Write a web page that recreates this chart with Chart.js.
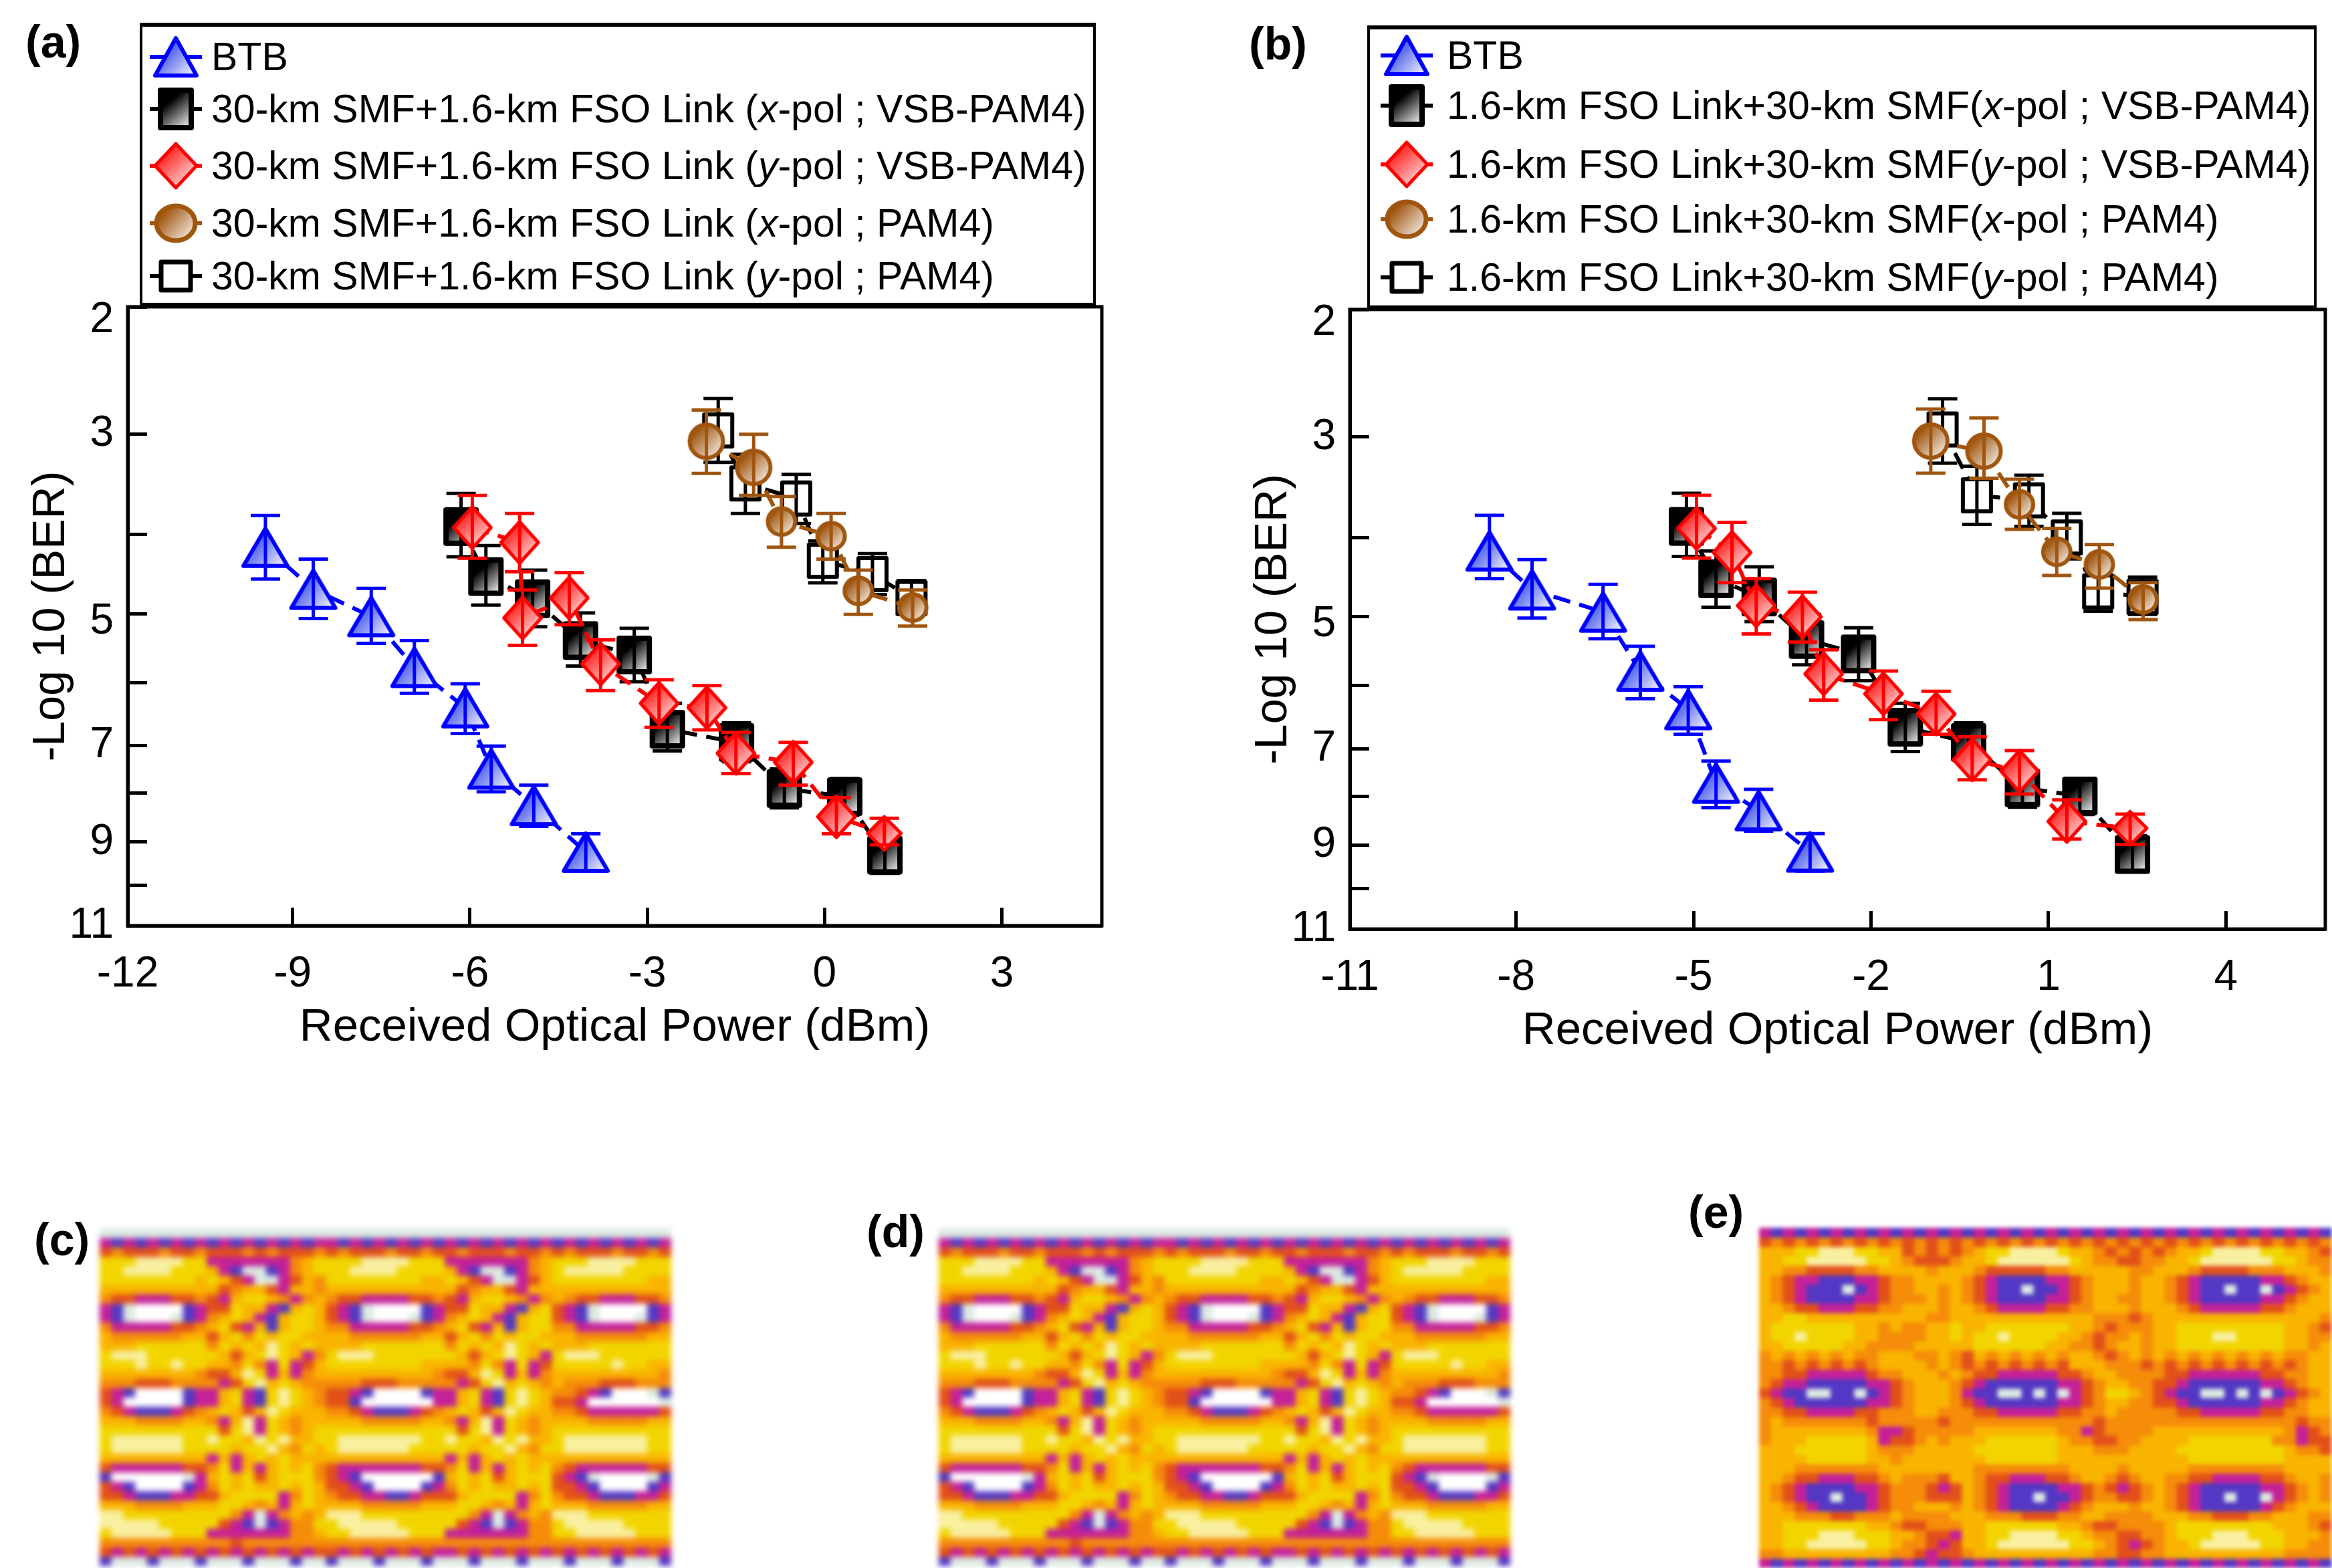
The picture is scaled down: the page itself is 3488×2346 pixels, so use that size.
<!DOCTYPE html>
<html>
<head>
<meta charset="utf-8">
<title>BER curves and eye diagrams</title>
<script src="https://cdn.jsdelivr.net/npm/chart.js@4/dist/chart.umd.js"></script>
<style>
  html, body { margin: 0; padding: 0; background: #fff; }
  #page { position: relative; width: 3488px; height: 2346px; overflow: hidden; font-family: "Liberation Sans", Arial, sans-serif; color: #000; }
  #page canvas.plot, #page canvas.eye { position: absolute; display: block; }
  .tag { position: absolute; font-weight: bold; font-size: 68px; line-height: 1; }
  .legend { position: absolute; box-sizing: border-box; background: #fff; border: 4px solid #000; border-top-width: 6px; border-bottom-width: 6px; }
  .row { position: absolute; white-space: nowrap; font-size: 59px; line-height: 1; transform: translateY(-50%); }
  .row i { font-style: italic; }
  .swatch { position: absolute; }
  .stub { position: absolute; height: 6px; width: 78px; }
</style>
</head>
<body>
<div id="page"></div>
<script>
// y levels shown on both BER axes, the axis is warped so they sit where the figure has them
const berLevels = [2, 3, 4, 5, 6, 7, 8, 9, 10, 11];
const berStops = [0, 0.206, 0.368, 0.496, 0.607, 0.709, 0.786, 0.865, 0.935, 1];
const berLabels = ['2', '3', '', '5', '', '7', '', '9', '', '11'];
const berLabelNudge = [20, 0, 0, 12, 0, 0, 0, 0, 0, 0];

// panel (a)
const aTickValues = [-11.79, -9, -6, -3, 0, 3];
const aTickLabels = ['-12', '-9', '-6', '-3', '0', '3'];
const aBtbX = [-9.46, -8.65, -7.67, -6.94, -6.08, -5.64, -4.92, -4.04];
const aBtbY = [4.16, 4.69, 5.04, 5.78, 6.40, 7.49, 8.25, 9.23];
const aBtbTop = [3.81, 4.31, 4.68, 5.39, 6.02, 7.01, 7.83, 8.83];
const aBtbBottom = [4.56, 5.07, 5.43, 6.17, 6.81, 7.97, 8.68, 9.66];
const aVsbXpolX = [-6.15, -5.73, -4.94, -4.13, -3.22, -2.66, -1.49, -0.68, 0.34, 1.02];
const aVsbXpolY = [3.92, 4.53, 4.81, 5.39, 5.60, 6.74, 6.95, 7.90, 8.07, 9.30];
const aVsbXpolTop = [3.59, 4.14, 4.45, 4.99, 5.21, 6.33, 6.64, 7.49, 7.69, 8.83];
const aVsbXpolBottom = [4.28, 4.89, 5.19, 5.76, 5.99, 7.11, 7.34, 8.30, 8.45, 9.72];
const aVsbYpolX = [-5.96, -5.16, -5.11, -4.32, -3.79, -2.80, -1.99, -1.50, -0.53, 0.20, 1.01];
const aVsbYpolY = [3.93, 4.10, 5.06, 4.80, 5.73, 6.33, 6.40, 7.16, 7.35, 8.48, 8.82];
const aVsbYpolTop = [3.61, 3.79, 4.70, 4.48, 5.38, 5.96, 6.05, 6.79, 6.95, 8.09, 8.51];
const aVsbYpolBottom = [4.30, 4.47, 5.46, 5.16, 6.13, 6.71, 6.75, 7.59, 7.83, 8.83, 9.06];
const aPamXpolX = [-2.00, -1.20, -0.73, 0.11, 0.57, 1.49];
const aPamXpolY = [3.07, 3.33, 3.87, 4.02, 4.71, 4.92];
const aPamXpolTop = [2.81, 3.00, 3.62, 3.79, 4.45, 4.70];
const aPamXpolBottom = [3.39, 3.61, 4.16, 4.31, 5.01, 5.18];
const aPamYpolX = [-1.80, -1.34, -0.48, -0.03, 0.81, 1.47];
const aPamYpolY = [2.97, 3.49, 3.64, 4.33, 4.50, 4.80];
const aPamYpolTop = [2.72, 3.20, 3.40, 4.08, 4.24, 4.58];
const aPamYpolBottom = [3.28, 3.79, 3.89, 4.61, 4.76, 5.01];

// panel (b)
const bTickValues = [-10.81, -8, -5, -2, 1, 4];
const bTickLabels = ['-11', '-8', '-5', '-2', '1', '4'];
const bBtbX = [-8.45, -7.73, -6.53, -5.90, -5.09, -4.62, -3.90, -3.03];
const bBtbY = [4.17, 4.66, 4.94, 5.79, 6.38, 7.72, 8.29, 9.15];
const bBtbTop = [3.78, 4.28, 4.59, 5.43, 6.02, 7.26, 7.85, 8.76];
const bBtbBottom = [4.52, 5.02, 5.32, 6.21, 6.77, 8.23, 8.71, 9.59];
const bVsbXpolX = [-5.12, -4.62, -3.89, -3.09, -2.21, -1.42, -0.35, 0.56, 1.53, 2.42];
const bVsbXpolY = [3.89, 4.52, 4.75, 5.33, 5.54, 6.66, 6.90, 7.82, 7.99, 9.21];
const bVsbXpolTop = [3.56, 4.17, 4.37, 4.97, 5.16, 6.28, 6.59, 7.41, 7.65, 8.80];
const bVsbXpolBottom = [4.24, 4.88, 5.07, 5.70, 5.93, 7.06, 7.27, 8.22, 8.37, 9.61];
const bVsbYpolX = [-4.95, -4.35, -3.94, -3.16, -2.80, -1.79, -0.90, -0.29, 0.51, 1.31, 2.38];
const bVsbYpolY = [3.91, 4.19, 4.86, 5.00, 5.83, 6.13, 6.45, 7.23, 7.47, 8.51, 8.65];
const bVsbYpolTop = [3.58, 3.85, 4.52, 4.69, 5.48, 5.79, 6.09, 6.81, 7.04, 8.07, 8.36];
const bVsbYpolBottom = [4.26, 4.57, 5.25, 5.37, 6.23, 6.54, 6.77, 7.65, 7.95, 8.87, 8.98];
const bPamXpolX = [-0.99, -0.09, 0.51, 1.14, 1.86, 2.60];
const bPamXpolY = [3.04, 3.14, 3.67, 4.18, 4.34, 4.78];
const bPamXpolTop = [2.78, 2.85, 3.42, 3.91, 4.09, 4.57];
const bPamXpolBottom = [3.36, 3.41, 3.92, 4.48, 4.64, 5.04];
const bPamYpolX = [-0.79, -0.21, 0.67, 1.31, 1.84, 2.59];
const bPamYpolY = [2.94, 3.58, 3.63, 4.00, 4.68, 4.75];
const bPamYpolTop = [2.70, 3.29, 3.38, 3.76, 4.41, 4.50];
const bPamYpolBottom = [3.26, 3.87, 3.89, 4.27, 4.93, 4.97];

const aLegend = [
  'BTB',
  '30-km SMF+1.6-km FSO Link (<i>x</i>-pol ; VSB-PAM4)',
  '30-km SMF+1.6-km FSO Link (<i>y</i>-pol ; VSB-PAM4)',
  '30-km SMF+1.6-km FSO Link (<i>x</i>-pol ; PAM4)',
  '30-km SMF+1.6-km FSO Link (<i>y</i>-pol ; PAM4)'
];
const bLegend = [
  'BTB',
  '1.6-km FSO Link+30-km SMF(<i>x</i>-pol ; VSB-PAM4)',
  '1.6-km FSO Link+30-km SMF(<i>y</i>-pol ; VSB-PAM4)',
  '1.6-km FSO Link+30-km SMF(<i>x</i>-pol ; PAM4)',
  '1.6-km FSO Link+30-km SMF(<i>y</i>-pol ; PAM4)'
];

const eyeLevels = ['#ffffff', '#dcebe2', '#5238c4', '#c4209a', '#e2501a', '#f58c0a', '#f9b400', '#f2d500', '#f8efa0'];
const eyeVsb = [
  '111111111 1111111111 1111111111 111111111 1111111111',
  '323232323 2323232323 3232323232 323232323 2323232323',
  '454445445 4445454445 4544454454 454445445 4544454454',
  '777888877 3333333567 7778888777 333333356 7778888777',
  '778888777 6321123567 7788887777 632112356 7888887777',
  '777777776 7643113465 7777777766 764311346 7777777766',
  '666666666 6456643665 6666666666 645664366 6666666666',
  '544333445 4367765356 5443333445 436776535 6544333445',
  '321000023 4476632676 4321000023 447663267 4321000023',
  '321000123 5676326776 4321000123 567632677 4321000123',
  '533333445 6743626776 5533333445 674362677 5533333445',
  '655555566 4675767766 6655555566 467576776 6655555566',
  '666777777 5767687676 6667777777 576768767 6667777777',
  '788877777 7646787635 7888777777 764678763 7888777777',
  '777877877 6657537346 7777777766 665753734 7777787766',
  '666666665 4468736356 6666666665 446873635 6666666665',
  '555444555 5347867655 5554445555 534786765 6555444555',
  '432000023 3673278765 4432000023 367327876 5543200012',
  '430000023 3673278765 4420000003 367327876 4430000001',
  '543222345 6764687666 5543222345 676468766 5543333334',
  '666555566 5368376566 6665555566 536837656 6665555566',
  '777777777 7478376567 7777777777 747837656 7777777777',
  '788888877 8776878667 7888888877 877687866 7888888877',
  '788888877 7767786576 7888888777 776778657 7888888877',
  '666666666 3636767666 6666666666 363676766 6666666666',
  '433333344 5736367675 4333333344 573636767 5433333344',
  '200000013 6767467775 4320000002 676746777 4321000012',
  '432000023 5767667676 4432000023 576766767 4432000023',
  '443222334 4677773576 5443322344 467777357 5443222334',
  '666555566 6776563676 6665555566 677656367 6665555566',
  '887777777 7753135656 8887777777 775313565 8887777777',
  '888887777 7432123557 7888887777 743212355 7888887777',
  '788888777 3333333556 7788888777 333333355 7788888777',
  '555555555 5545555555 5555555555 555555555 5555555555',
  '434343434 3434343434 4343434343 343434343 4343434343',
  '211121112 1112111211 2111211121 112111211 1211121112'
];
const eyePam = [
  '323232323232323 23232323232323232 3232323232323232',
  '454545454545454 54545454545454545 4545454545454545',
  '666778887766454 54567788887665454 5456678888776654',
  '667788888776544 45667888888765544 5566788888877655',
  '665544445566665 66654444455666665 5666544445556665',
  '654332223345566 66543222233456665 6654322222334566',
  '654322212345566 56543221223456665 6654322122123456',
  '654322223345556 56543222233456655 6654322222334566',
  '665443334455666 56654333344556665 6665433333445666',
  '667766666666665 56666666666665554 5666666666666665',
  '677777776656556 67667777777665455 5667777777776654',
  '677877776655556 67677877776654556 5667778877776655',
  '667777766555566 66677777766554566 5667777777776656',
  '565656565566655 65465656565665456 5656565656565566',
  '554545454566665 65454545454666555 4545454545454566',
  '554433333455666 56544333334456655 5544333333445566',
  '543322222334566 65432222223345665 5443222222334566',
  '432211221234566 65322112121345776 5432211212123456',
  '543222222334566 65432222223345665 5443222222334566',
  '554433334455566 55544333334455655 5554433333445566',
  '565555555455555 45555555555554555 5555555555555455',
  '566666666533455 55566666665534555 5666666666665345',
  '566677777634456 56667777776554455 6666777777755344',
  '666777777655566 66677777776665556 6667777777776554',
  '666677777665666 66667777776666666 6666777777776666',
  '666555555566666 66655555555666656 6666555555556666',
  '665443334456555 46654433344566545 6655443333445665',
  '654322223345554 34654322223345434 5654322222334565',
  '654322122345554 44654322122345544 5654322122134565',
  '665432222345566 65654322223456665 6654322222345666',
  '666555445556555 56665554445566555 5666554445566655',
  '667777777665445 55667777776654455 5567777777766654',
  '667778887776654 43667788887765544 5567778887776665',
  '667788888776554 34667888888776543 4566788888776655',
  '556666666665543 44566666666665544 5566666666665555',
  '323232323232323 23232323232323232 3232323232323232'
];

const page = document.getElementById('page');

// -Log10(BER) axis: evenly read levels, unevenly spaced
class BerScale extends Chart.LinearScale {
  warp(v) {
    const i = Math.max(0, Math.min(berLevels.length - 2, Math.floor(v) - berLevels[0]));
    return berStops[i] + (v - berLevels[i]) * (berStops[i + 1] - berStops[i]);
  }
  getPixelForValue(v) {
    return this.getPixelForDecimal(this.warp(v));
  }
  _computeLabelItems(area) {
    const items = super._computeLabelItems(area);
    items.forEach(function (item, i) {
      item.options.translation[1] += berLabelNudge[i] || 0;
    });
    return items;
  }
}
BerScale.id = 'ber';
BerScale.defaults = Chart.LinearScale.defaults;
Chart.register(BerScale);

function sprite(kind, w, h, ink, start, lw) {
  const c = document.createElement('canvas');
  c.width = w + lw * 2;
  c.height = h + lw * 2;
  const g = c.getContext('2d');
  g.translate(lw, lw);
  const fill = g.createLinearGradient(0, 0, w, h);
  fill.addColorStop(0, start);
  fill.addColorStop(kind === 'square' ? 0.3 : 0.2, start);
  fill.addColorStop(1, '#ffffff');
  g.beginPath();
  if (kind === 'triangle') {
    g.moveTo(w / 2, 0); g.lineTo(w, h); g.lineTo(0, h); g.closePath();
  } else if (kind === 'diamond') {
    g.moveTo(w / 2, 0); g.lineTo(w, h / 2); g.lineTo(w / 2, h); g.lineTo(0, h / 2); g.closePath();
  } else if (kind === 'circle') {
    g.ellipse(w / 2, h / 2, w / 2, h / 2, 0, 0, Math.PI * 2);
  } else {
    g.rect(0, 0, w, h);
  }
  g.fillStyle = kind === 'open' ? '#ffffff' : fill;
  g.fill();
  g.lineWidth = lw;
  g.lineJoin = 'round';
  g.strokeStyle = ink;
  g.stroke();
  return c;
}

const BLUE = '#0000ff', RED = '#ff0000', BROWN = '#a0560f', BLACK = '#000000';

function marks(n, big, small, bigCount) {
  const out = [];
  for (let i = 0; i < n; i++) out.push(i < bigCount ? big : small);
  return out;
}

function series(label, x, y, top, bottom, ink, style) {
  return {
    label: label,
    data: x.map(function (v, i) { return { x: v, y: y[i] }; }),
    errTop: top,
    errBottom: bottom,
    showLine: true,
    borderColor: ink,
    borderWidth: 6,
    borderDash: [26, 14],
    pointStyle: style,
    pointRadius: 30,
    pointBackgroundColor: ink,
    pointBorderColor: ink
  };
}

const errorBars = {
  id: 'errorBars',
  afterDatasetDraw: function (chart, args) {
    const ds = chart.data.datasets[args.index];
    if (!ds.errTop) return;
    const ctx = chart.ctx, xs = chart.scales.x, ys = chart.scales.y;
    ctx.save();
    ctx.strokeStyle = ds.borderColor;
    ctx.lineWidth = 5;
    ds.data.forEach(function (p, i) {
      const px = xs.getPixelForValue(p.x);
      const top = ys.getPixelForValue(ds.errTop[i]);
      const bottom = ys.getPixelForValue(ds.errBottom[i]);
      ctx.beginPath();
      ctx.moveTo(px, top); ctx.lineTo(px, bottom);
      ctx.moveTo(px - 22, top); ctx.lineTo(px + 22, top);
      ctx.moveTo(px - 22, bottom); ctx.lineTo(px + 22, bottom);
      ctx.stroke();
    });
    ctx.restore();
  }
};

const frame = {
  id: 'frame',
  afterDraw: function (chart) {
    const a = chart.chartArea, ctx = chart.ctx;
    ctx.save();
    ctx.strokeStyle = '#000';
    ctx.lineWidth = 5;
    ctx.strokeRect(a.left, a.top, a.right - a.left, a.bottom - a.top);
    ctx.restore();
  }
};

function berPanel(o) {
  const c = document.createElement('canvas');
  c.className = 'plot';
  c.width = o.w; c.height = o.h;
  c.style.left = o.x + 'px'; c.style.top = o.y + 'px';
  c.style.width = o.w + 'px'; c.style.height = o.h + 'px';
  page.appendChild(c);
  new Chart(c, {
    type: 'scatter',
    data: { datasets: o.datasets },
    plugins: [errorBars, frame],
    options: {
      responsive: false,
      animation: false,
      devicePixelRatio: 1,
      layout: { padding: { top: o.padTop, right: o.padRight, left: 0, bottom: 0 } },
      plugins: { legend: { display: false }, tooltip: { enabled: false } },
      scales: {
        x: {
          type: 'linear',
          min: o.ticks[0],
          max: o.xMax,
          afterFit: function (s) { s.height = o.xBand; s.paddingLeft = 0; s.paddingRight = 0; },
          afterBuildTicks: function (s) { s.ticks = o.ticks.map(function (v) { return { value: v }; }); },
          border: { width: 5, color: '#000' },
          grid: { drawOnChartArea: false, tickLength: -27, tickWidth: 5, tickColor: '#000' },
          ticks: {
            autoSkip: false, maxRotation: 0, padding: 62, color: '#000',
            font: { family: 'Liberation Sans', size: 64 },
            callback: function (v, i) { return o.tickLabels[i]; }
          },
          title: {
            display: true, text: 'Received Optical Power (dBm)', color: '#000',
            font: { family: 'Liberation Sans', size: 69 },
            padding: { top: 0, bottom: o.titleBottom }
          }
        },
        y: {
          type: 'ber',
          min: 2,
          max: 11,
          reverse: true,
          afterFit: function (s) { s.width = o.yBand; s.paddingTop = 0; s.paddingBottom = 0; },
          afterBuildTicks: function (s) { s.ticks = berLevels.map(function (v) { return { value: v }; }); },
          border: { width: 5, color: '#000' },
          grid: { drawOnChartArea: false, tickLength: -29, tickWidth: 5, tickColor: '#000' },
          ticks: {
            autoSkip: false, padding: 50, color: '#000',
            font: { family: 'Liberation Sans', size: 64 },
            callback: function (v, i) { return berLabels[i]; }
          },
          title: {
            display: true, text: '-Log 10 (BER)', color: '#000',
            font: { family: 'Liberation Sans', size: 68 },
            padding: { top: o.titleTop, bottom: 0 }
          }
        }
      }
    }
  });
}

function legendBox(o, labels, styles, inks) {
  const box = document.createElement('div');
  box.className = 'legend';
  box.style.cssText = 'left:' + o.x + 'px;top:' + o.y + 'px;width:' + o.w + 'px;height:' + o.h + 'px';
  page.appendChild(box);
  labels.forEach(function (text, i) {
    const cy = o.rows[i] - o.y - 6;
    const stub = document.createElement('div');
    stub.className = 'stub';
    stub.style.cssText = 'left:' + (o.markX - o.x - 43) + 'px;top:' + (cy - 3) + 'px;background:' + inks[i];
    box.appendChild(stub);
    const s = styles[i];
    s.className = 'swatch';
    s.style.left = (o.markX - o.x - 4 - s.width / 2) + 'px';
    s.style.top = (cy - s.height / 2) + 'px';
    box.appendChild(s);
    const row = document.createElement('div');
    row.className = 'row';
    row.innerHTML = text;
    row.style.left = (o.textX - o.x - 4) + 'px';
    row.style.top = cy + 'px';
    box.appendChild(row);
  });
}

function legendSprites() {
  return [
    sprite('triangle', 62, 56, BLUE, '#2a40e8', 6),
    sprite('square', 46, 56, BLACK, '#000000', 8),
    sprite('diamond', 62, 66, RED, '#ff1a1a', 5),
    sprite('circle', 58, 52, BROWN, '#a0560f', 7),
    sprite('open', 44, 42, BLACK, '#ffffff', 7)
  ];
}

function eyeChart(rows, x, y, w, h, blur) {
  const grid = rows.map(function (r) { return r.replace(/ /g, ''); });
  const cols = grid[0].length;
  const c = document.createElement('canvas');
  c.className = 'eye';
  c.width = cols * 18; c.height = grid.length * 14;
  c.style.cssText = 'left:' + x + 'px;top:' + y + 'px;width:' + w + 'px;height:' + h + 'px;filter:blur(' + blur + 'px)';
  page.appendChild(c);
  const labels = [];
  for (let i = 0; i < cols; i++) labels.push(i);
  new Chart(c, {
    type: 'bar',
    data: {
      labels: labels,
      datasets: grid.map(function (r) {
        return {
          data: labels.map(function () { return 1; }),
          backgroundColor: labels.map(function (i) { return eyeLevels[+(r[i] || r[r.length - 1])]; }),
          borderWidth: 0,
          barPercentage: 1,
          categoryPercentage: 1
        };
      })
    },
    options: {
      responsive: false,
      animation: false,
      devicePixelRatio: 1,
      plugins: { legend: { display: false }, tooltip: { enabled: false } },
      scales: {
        x: { display: false, stacked: true },
        y: { display: false, stacked: true, reverse: true, min: 0, max: grid.length }
      }
    }
  });
}

function tag(text, x, y) {
  const t = document.createElement('div');
  t.className = 'tag';
  t.textContent = text;
  t.style.left = x + 'px';
  t.style.top = y + 'px';
  page.appendChild(t);
}

const dia = sprite('diamond', 56, 62, RED, '#ff1a1a', 5);
const diaSmall = sprite('diamond', 50, 50, RED, '#ff1a1a', 5);
const ringBig = sprite('circle', 50, 50, BROWN, '#a0560f', 6);
const ringSmall = sprite('circle', 41, 40, BROWN, '#a0560f', 6);

function panelSeries(names, p) {
  return [
    series('BTB', p.btb[0], p.btb[1], p.btb[2], p.btb[3], BLUE, sprite('triangle', 66, 56, BLUE, '#2a40e8', 6)),
    series(names[1], p.vy[0], p.vy[1], p.vy[2], p.vy[3], RED, marks(p.vy[0].length, dia, diaSmall, p.vy[0].length - 1)),
    series(names[0], p.vx[0], p.vx[1], p.vx[2], p.vx[3], BLACK, sprite('square', 45, 50, BLACK, '#000000', 8)),
    series(names[2], p.px[0], p.px[1], p.px[2], p.px[3], BROWN, marks(p.px[0].length, ringBig, ringSmall, 2)),
    series(names[3], p.py[0], p.py[1], p.py[2], p.py[3], BLACK, sprite('open', 42, 48, BLACK, '#ffffff', 6))
  ];
}

berPanel({
  x: 0, y: 400, w: 1700, h: 1240, padTop: 59, padRight: 52, xBand: 255, yBand: 191,
  titleTop: 36, titleBottom: 61, xMax: 4.69, ticks: aTickValues, tickLabels: aTickLabels,
  datasets: panelSeries(
    ['30-km SMF+1.6-km FSO Link (x-pol ; VSB-PAM4)', '30-km SMF+1.6-km FSO Link (y-pol ; VSB-PAM4)',
     '30-km SMF+1.6-km FSO Link (x-pol ; PAM4)', '30-km SMF+1.6-km FSO Link (y-pol ; PAM4)'],
    {
      btb: [aBtbX, aBtbY, aBtbTop, aBtbBottom],
      vx: [aVsbXpolX, aVsbXpolY, aVsbXpolTop, aVsbXpolBottom],
      vy: [aVsbYpolX, aVsbYpolY, aVsbYpolTop, aVsbYpolBottom],
      px: [aPamXpolX, aPamXpolY, aPamXpolTop, aPamXpolBottom],
      py: [aPamYpolX, aPamYpolY, aPamYpolTop, aPamYpolBottom]
    })
});
// canvas runs past the page edge: the right padding has to stay above what the last label asks for
berPanel({
  x: 1740, y: 400, w: 1790, h: 1240, padTop: 63, padRight: 52, xBand: 250, yBand: 279,
  titleTop: 124, titleBottom: 56, xMax: 5.68, ticks: bTickValues, tickLabels: bTickLabels,
  datasets: panelSeries(
    ['1.6-km FSO Link+30-km SMF(x-pol ; VSB-PAM4)', '1.6-km FSO Link+30-km SMF(y-pol ; VSB-PAM4)',
     '1.6-km FSO Link+30-km SMF(x-pol ; PAM4)', '1.6-km FSO Link+30-km SMF(y-pol ; PAM4)'],
    {
      btb: [bBtbX, bBtbY, bBtbTop, bBtbBottom],
      vx: [bVsbXpolX, bVsbXpolY, bVsbXpolTop, bVsbXpolBottom],
      vy: [bVsbYpolX, bVsbYpolY, bVsbYpolTop, bVsbYpolBottom],
      px: [bPamXpolX, bPamXpolY, bPamXpolTop, bPamXpolBottom],
      py: [bPamYpolX, bPamYpolY, bPamYpolTop, bPamYpolBottom]
    })
});

const legendInks = [BLUE, BLACK, RED, BROWN, BLACK];
legendBox({ x: 209, y: 34, w: 1430, h: 425, markX: 263, textX: 316, rows: [85, 163, 248, 334, 413] },
  aLegend, legendSprites(), legendInks);
legendBox({ x: 2045, y: 38, w: 1420, h: 425, markX: 2104, textX: 2164, rows: [83, 158, 246, 328, 415] },
  bLegend, legendSprites(), legendInks);

eyeChart(eyeVsb, 149, 1838, 855, 505, 4);
eyeChart(eyeVsb, 1404, 1838, 855, 505, 4);
eyeChart(eyePam, 2631, 1837, 857, 509, 3);

tag('(a)', 38, 28);
tag('(b)', 1868, 31);
tag('(c)', 51, 1820);
tag('(d)', 1296, 1808);
tag('(e)', 2525, 1779);
</script>
</body>
</html>
